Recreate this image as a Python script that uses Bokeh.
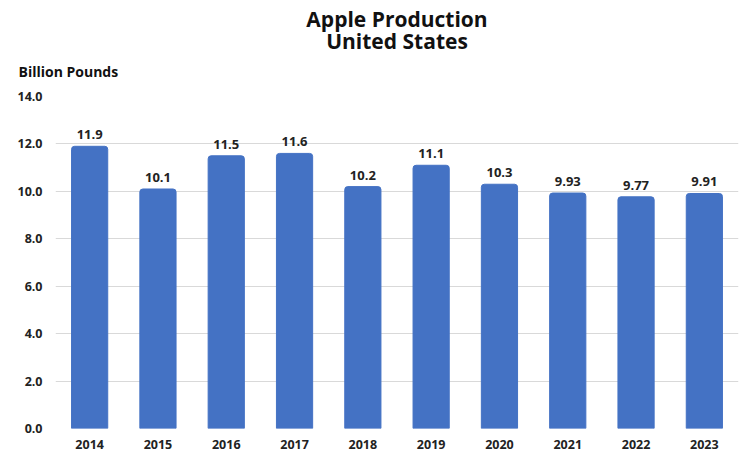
from bokeh.plotting import figure
from bokeh.models import ColumnDataSource, Title, FactorRange, Range1d, FixedTicker, NumeralTickFormatter
from bokeh.core.properties import value
from bokeh.embed import file_html
from bokeh.resources import INLINE

years = ["2014", "2015", "2016", "2017", "2018", "2019", "2020", "2021", "2022", "2023"]
production = [11.9, 10.1, 11.5, 11.6, 10.2, 11.1, 10.3, 9.93, 9.77, 9.91]
labels = ["11.9", "10.1", "11.5", "11.6", "10.2", "11.1", "10.3", "9.93", "9.77", "9.91"]
y_ticks = [0, 2, 4, 6, 8, 10, 12, 14]

FONT = "Open Sans"
source = ColumnDataSource(dict(year=years, val=production, lab=labels))

p = figure(width=742, height=451, x_range=FactorRange(*years, range_padding=0),
           y_range=Range1d(0, 14), output_backend="svg", toolbar_location=None,
           title=None, min_border_left=55, min_border_right=4, min_border_bottom=0,
           min_border_top=1)

p.vbar(x="year", top="val", width=0.53, source=source, color="#4472C4",
       border_radius=(3, 3, 0, 0))
p.text(x="year", y="val", text="lab", source=source, text_align="center",
       text_baseline="bottom", y_offset=-7, text_font=value(FONT),
       text_font_size="13px", text_font_style="bold", text_color="#222222")

p.outline_line_color = None
p.xgrid.grid_line_color = None
p.ygrid.grid_line_color = "#d9d9d9"
p.ygrid.ticker = FixedTicker(ticks=y_ticks)
p.yaxis.ticker = FixedTicker(ticks=y_ticks)
p.yaxis.formatter = NumeralTickFormatter(format="0.0")
for ax in (p.xaxis[0], p.yaxis[0]):
    ax.axis_line_color = None
    ax.major_tick_line_color = None
    ax.minor_tick_line_color = None
    ax.major_tick_out = 0
    ax.major_tick_in = 0
    ax.major_label_text_font = FONT
    ax.major_label_text_font_style = "bold"
    ax.major_label_text_font_size = "12.5px"
    ax.major_label_text_color = "#222222"
p.yaxis.major_label_standoff = 13
p.xaxis.major_label_standoff = 11

p.add_layout(Title(text="Billion  Pounds", align="left", offset=-37,
                   text_font=FONT, text_font_size="14px", text_font_style="bold",
                   text_color="#111111", standoff=31), "above")
p.add_layout(Title(text="United States", align="center", text_font=FONT, standoff=-20,
                   text_font_size="21px", text_font_style="bold", text_color="#111111"), "above")
p.add_layout(Title(text="Apple Production", align="center", text_font=FONT, standoff=4,
                   text_font_size="21px", text_font_style="bold", text_color="#111111"), "above")

open("out.html", "w").write(file_html(p, INLINE))
